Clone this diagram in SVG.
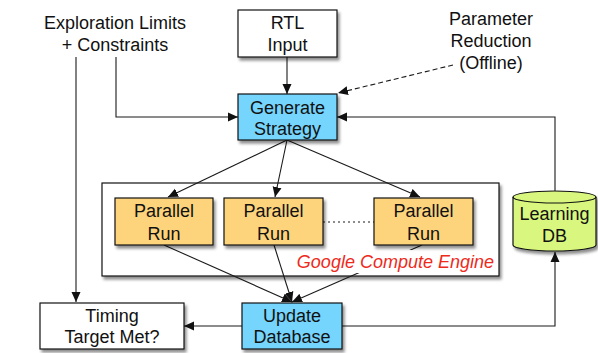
<svg xmlns="http://www.w3.org/2000/svg" width="598" height="353" viewBox="0 0 598 353">
  <style>
    text { font-family: "Liberation Sans", Arial, Helvetica, sans-serif; font-size: 18px; fill: #111; }
    .mid { text-anchor: middle; }
    .box { stroke: #111; stroke-width: 1.2; filter: url(#shadow); }
    .wire { fill: none; stroke: #1a1a1a; stroke-width: 1.1; }
    .gce { fill: #ee2a1b; font-style: italic; }
  </style>
  <defs>
    <filter id="shadow" x="-10%" y="-10%" width="130%" height="140%">
      <feGaussianBlur in="SourceAlpha" stdDeviation="1.5"/>
      <feOffset dx="2" dy="3" result="b"/>
      <feComponentTransfer><feFuncA type="linear" slope="0.45"/></feComponentTransfer>
      <feMerge><feMergeNode/><feMergeNode in="SourceGraphic"/></feMerge>
    </filter>
    <marker id="arrow" viewBox="0 0 10 10" refX="10" refY="5" markerWidth="10" markerHeight="10" markerUnits="userSpaceOnUse" orient="auto">
      <path d="M0,0.5 L10,5 L0,9.5 z" fill="#111"/>
    </marker>
  </defs>

  <!-- cloud container -->
  <g id="cloud">
    <rect class="box" x="102" y="183" width="397" height="93" fill="#fff" stroke="#333"/>
  </g>

  <!-- connectors -->
  <g id="connectors">
    <path class="wire" d="M76,57 V302" marker-end="url(#arrow)"/>
    <path class="wire" d="M116,57 V117 H238" marker-end="url(#arrow)"/>
    <path class="wire" d="M287,57 V94" marker-end="url(#arrow)"/>
    <path class="wire" d="M453,65 L338,93" stroke-dasharray="5,3" marker-end="url(#arrow)"/>
    <path class="wire" d="M555,192 V117 H337" marker-end="url(#arrow)"/>
    <path class="wire" d="M287,140 L168,197" marker-end="url(#arrow)"/>
    <path class="wire" d="M287,140 L275,197" marker-end="url(#arrow)"/>
    <path class="wire" d="M287,140 L420,197" marker-end="url(#arrow)"/>
    <path class="wire" d="M323,222 H374" stroke-dasharray="2,3"/>
    <path class="wire" d="M164,245 L292,302" marker-end="url(#arrow)"/>
    <path class="wire" d="M274,245 L292,302" marker-end="url(#arrow)"/>
    <path class="wire" d="M422,245 L292,302" marker-end="url(#arrow)"/>
    <path class="wire" d="M242,326 H184" marker-end="url(#arrow)"/>
    <path class="wire" d="M342,326 H555 V252" marker-end="url(#arrow)"/>
  </g>

  <!-- cloud label -->
  <g id="gce-label">
    <rect x="293" y="250" width="203" height="23" fill="#fff"/>
    <text class="gce" x="494" y="268" text-anchor="end">Google Compute Engine</text>
  </g>

  <g id="limits">
    <text class="mid" x="115" y="29">Exploration Limits</text>
    <text class="mid" x="115" y="51">+ Constraints</text>
  </g>

  <g id="param-reduction">
    <text class="mid" x="491" y="25">Parameter</text>
    <text class="mid" x="491" y="47">Reduction</text>
    <text class="mid" x="491" y="69">(Offline)</text>
  </g>

  <g id="rtl">
    <rect class="box" x="238" y="10" width="99" height="47" fill="#fff"/>
    <text class="mid" x="287.5" y="29">RTL</text>
    <text class="mid" x="287.5" y="51">Input</text>
  </g>

  <g id="generate">
    <rect class="box" x="238" y="94" width="99" height="46" fill="#76d5fd"/>
    <text class="mid" x="287.5" y="114">Generate</text>
    <text class="mid" x="287.5" y="135">Strategy</text>
  </g>

  <g id="run1">
    <rect class="box" x="115" y="198" width="98" height="47" fill="#fdd47c"/>
    <text class="mid" x="164" y="217">Parallel</text>
    <text class="mid" x="164" y="240">Run</text>
  </g>
  <g id="run2">
    <rect class="box" x="224" y="198" width="99" height="47" fill="#fdd47c"/>
    <text class="mid" x="273.5" y="217">Parallel</text>
    <text class="mid" x="273.5" y="240">Run</text>
  </g>
  <g id="run3">
    <rect class="box" x="374" y="198" width="99" height="47" fill="#fdd47c"/>
    <text class="mid" x="423.5" y="217">Parallel</text>
    <text class="mid" x="423.5" y="240">Run</text>
  </g>

  <g id="learning-db">
    <path class="box" d="M513,197 V245 A41.5,6 0 0 0 596,245 V197 A41.5,6 0 0 0 513,197 Z" fill="#d9f77e"/>
    <path d="M513,197 A41.5,6 0 0 0 596,197" fill="none" stroke="#111" stroke-width="1.2"/>
    <text class="mid" x="554.5" y="220">Learning</text>
    <text class="mid" x="554.5" y="242">DB</text>
  </g>

  <g id="update">
    <rect class="box" x="242" y="303" width="100" height="46" fill="#76d5fd"/>
    <text class="mid" x="292" y="322">Update</text>
    <text class="mid" x="292" y="343">Database</text>
  </g>

  <g id="timing">
    <rect class="box" x="40" y="303" width="144" height="46" fill="#fff"/>
    <text class="mid" x="112" y="322">Timing</text>
    <text class="mid" x="112" y="343">Target Met?</text>
  </g>
</svg>
